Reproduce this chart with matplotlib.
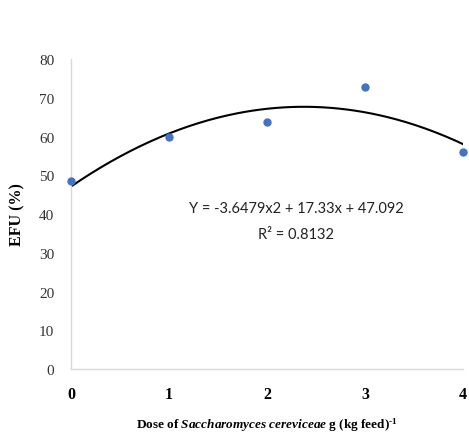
import numpy as np
import matplotlib.pyplot as plt

plt.rcParams['font.family'] = 'Liberation Serif'
plt.rcParams['mathtext.fontset'] = 'custom'
plt.rcParams['mathtext.it'] = 'Liberation Serif:italic:bold'
plt.rcParams['mathtext.rm'] = 'Liberation Serif:bold'
plt.rcParams['mathtext.bf'] = 'Liberation Serif:bold'

# doses and measured EFU
dose = [0, 1, 2, 3, 4]
efu = [48.5, 59.9, 63.7, 72.8, 56.0]

# quadratic trend coefficients
a, b, c = -3.6479, 17.33, 47.092

fig = plt.figure(figsize=(4.69, 4.35), dpi=100)
ax = fig.add_axes([0.1514, 0.1494, 0.8358, 0.7126])

xs = np.linspace(0, 4, 200)
ax.plot(xs, a * xs**2 + b * xs + c, color='black', lw=1.5, zorder=2)
ax.plot(dose, efu, 'o', color='#4472C4', ms=5, zorder=3, clip_on=False)

ax.set_xlim(0, 4)
ax.set_ylim(0, 80)
ax.set_xticks(dose, [str(d) for d in dose], fontweight='bold', fontsize=11.5)
yt = list(range(0, 81, 10))
ax.set_yticks(yt, [str(v) for v in yt], fontsize=11, color='#333333')

for side in ['top', 'right']:
    ax.spines[side].set_visible(False)
for side in ['left', 'bottom']:
    ax.spines[side].set_color('#d9d9d9')
    ax.spines[side].set_linewidth(1)

ax.tick_params(length=0)
ax.tick_params(axis='y', pad=12)
ax.tick_params(axis='x', pad=12)

ax.set_ylabel('EFU (%)', fontweight='bold', fontsize=11.5, labelpad=10)
ax.set_xlabel('Dose of $\\mathit{Saccharomyces\\ cereviceae}$ g (kg feed)$^{\\mathrm{\u20101}}$',
              fontweight='bold', fontsize=9.5, labelpad=10)

ax.text(2.3, 41.5, 'Y = -3.6479x2 + 17.33x + 47.092', ha='center', va='center',
        family='Lato', fontsize=10.5, color='#222222')
ax.text(2.3, 34.8, 'R² = 0.8132', ha='center', va='center',
        family='Lato', fontsize=10.5, color='#222222')

fig.savefig('out.png', dpi=100)
